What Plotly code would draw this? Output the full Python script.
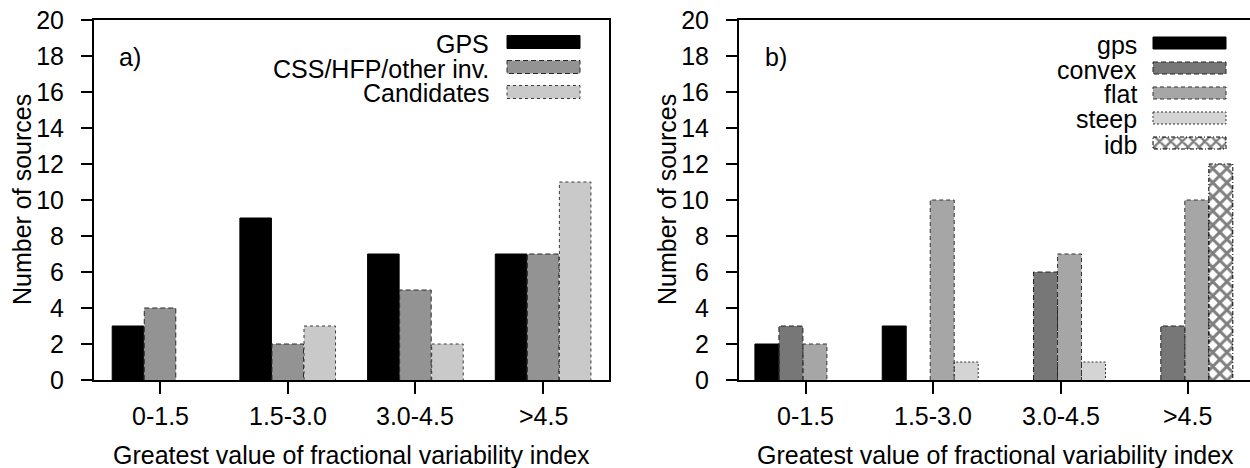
import plotly.graph_objects as go

# ---------------- data ----------------
categories = ["0-1.5", "1.5-3.0", "3.0-4.5", ">4.5"]

a_names = ["GPS", "CSS/HFP/other inv.", "Candidates"]
a_gps = [3, 9, 7, 7]
a_css = [4, 2, 5, 7]
a_cand = [0, 3, 2, 11]

b_names = ["gps", "convex", "flat", "steep", "idb"]
b_gps = [2, 3, 0, 0]
b_convex = [3, 0, 6, 3]
b_flat = [2, 10, 7, 10]
b_steep = [0, 1, 1, 0]
b_idb = [0, 0, 0, 12]

y_ticks = list(range(0, 21, 2))

# ---------------- styles ----------------
W, H = 1250, 468
FONT = "Liberation Sans, Arial, Helvetica, sans-serif"
FS = 25

a_styles = [
    dict(fill="#000000", line="#000000", dash="solid", pattern=None),
    dict(fill="#939393", line="#2a2a2a", dash="5px,3px", pattern=None),
    dict(fill="#c9c9c9", line="#3a3a3a", dash="3px,3px", pattern=None),
]
b_styles = [
    dict(fill="#000000", line="#000000", dash="solid", pattern=None),
    dict(fill="#777777", line="#222222", dash="5px,3px", pattern=None),
    dict(fill="#a6a6a6", line="#333333", dash="4px,3px", pattern=None),
    dict(fill="#d4d4d4", line="#333333", dash="2px,2px", pattern=None),
    dict(fill="#ffffff", line="#000000", dash="4px,2px,1px,2px", pattern="x"),
]

# bar geometry (in category units)
a_width = 0.247
a_centers = [-0.251, 0.0, 0.251]
b_width = 0.1885
b_slot = [0, 1, 2, 3, 3]          # idb shares the last slot
b_centers = [-0.024 + (k - 1.5) * 0.1885 for k in range(4)]

fig = go.Figure()


def add_series(values, center, width, style, xa, ya):
    xs, ys = [], []
    lx, ly = [], []
    for i, v in enumerate(values):
        if not v:
            continue
        xc = i + center
        xs.append(xc)
        ys.append(v)
        x0, x1 = xc - width / 2, xc + width / 2
        lx += [x0, x0, x1, x1, None]
        ly += [0, v, v, 0, None]
    marker = dict(color=style["fill"], line=dict(width=0))
    if style["pattern"]:
        marker["pattern"] = dict(shape=style["pattern"], fgcolor="#000000",
                                 bgcolor="#ffffff", size=10, solidity=0.5)
    fig.add_trace(go.Bar(x=xs, y=ys, width=width, marker=marker,
                         xaxis=xa, yaxis=ya, showlegend=False,
                         hoverinfo="skip"))
    fig.add_trace(go.Scatter(x=lx, y=ly, mode="lines",
                             line=dict(color=style["line"], width=1,
                                       dash=style["dash"]),
                             xaxis=xa, yaxis=ya, showlegend=False,
                             hoverinfo="skip"))


for vals, c, st in zip([a_gps, a_css, a_cand], a_centers, a_styles):
    add_series(vals, c, a_width, st, "x", "y")

for vals, slot, st in zip([b_gps, b_convex, b_flat, b_steep, b_idb], b_slot, b_styles):
    add_series(vals, b_centers[slot], b_width, st, "x2", "y2")

# ---------------- legends (drawn in pixel space on a hidden full-page axis) ----------------
def legend_box(x0, x1, yc, h, style, text, tx):
    y0, y1 = yc - h / 2, yc + h / 2
    kw = dict(x=[x0, x1, x1, x0, x0], y=[y0, y0, y1, y1, y0], mode="lines",
              fill="toself", fillcolor=style["fill"],
              line=dict(color=style["line"], width=1, dash=style["dash"]),
              xaxis="x3", yaxis="y3", showlegend=False, hoverinfo="skip")
    if style["pattern"]:
        kw["fillpattern"] = dict(shape=style["pattern"], fgcolor="#000000",
                                 bgcolor="#ffffff", size=8, solidity=0.5)
    fig.add_trace(go.Scatter(**kw))
    fig.add_annotation(x=tx / W, y=1 - (yc + 1.5) / H, xref="paper", yref="paper",
                       text=text, showarrow=False, xanchor="right", yanchor="middle",
                       font=dict(family=FONT, size=FS, color="black"))


for k, (name, st) in enumerate(zip(a_names, a_styles)):
    legend_box(507, 580, 42 + 25 * k, 13, st, name, 491)
for k, (name, st) in enumerate(zip(b_names, b_styles)):
    legend_box(1153, 1226, 43 + 25 * k, 12, st, name, 1139)

# ---------------- axes ----------------
ydom = [1 - 380 / H, 1 - 20 / H]
common_x = dict(tickmode="array", tickvals=list(range(len(categories))),
                ticktext=categories, ticks="outside", ticklen=12, tickwidth=2,
                tickcolor="black", showline=True, linecolor="black", linewidth=2,
                showgrid=False, zeroline=False, showticklabels=False)
common_y = dict(range=[0, 20], tickmode="array", tickvals=y_ticks,
                ticks="outside", ticklen=11, tickwidth=2, tickcolor="black",
                showline=True, linecolor="black", linewidth=2, showgrid=False,
                zeroline=False, ticklabelstandoff=12,
                tickfont=dict(family=FONT, size=FS, color="black"))

fig.update_layout(
    width=W, height=H,
    margin=dict(l=0, r=0, t=0, b=0, autoexpand=False),
    paper_bgcolor="white", plot_bgcolor="rgba(0,0,0,0)",
    barmode="overlay",
    xaxis=dict(common_x, domain=[94 / W, 609 / W], range=[-0.517, 3.516],
               mirror=True, anchor="y"),
    yaxis=dict(common_y, domain=ydom, mirror=True, anchor="x"),
    xaxis2=dict(common_x, domain=[739 / W, 1.0], range=[-0.526, 3.488],
                mirror=True, anchor="y2"),
    yaxis2=dict(common_y, domain=ydom, mirror=False, anchor="x2"),
    xaxis3=dict(domain=[0, 1], range=[0, W], visible=False, fixedrange=True,
                anchor="y3"),
    yaxis3=dict(domain=[0, 1], range=[H, 0], visible=False, fixedrange=True,
                anchor="x3"),
    showlegend=False,
)

# category tick labels, positioned on each panel's x axis
for xref in ("x", "x2"):
    for i, cat in enumerate(categories):
        fig.add_annotation(x=i, xref=xref, y=1 - 416 / H, yref="paper",
                           text=cat, showarrow=False, xanchor="center",
                           yanchor="middle",
                           font=dict(family=FONT, size=FS, color="black"))

# titles and panel labels
for cx in (351, 995):
    fig.add_annotation(x=cx / W, y=1 - 455 / H, xref="paper", yref="paper",
                       text="Greatest value of fractional variability index",
                       showarrow=False, xanchor="center", yanchor="middle",
                       font=dict(family=FONT, size=FS, color="black"))
for cx in (22, 667):
    fig.add_annotation(x=cx / W, y=1 - 200 / H, xref="paper", yref="paper",
                       text="Number of sources", textangle=-90,
                       showarrow=False, xanchor="center", yanchor="middle",
                       font=dict(family=FONT, size=FS, color="black"))
for cx, lab in ((130, "a)"), (776, "b)")):
    fig.add_annotation(x=cx / W, y=1 - 57 / H, xref="paper", yref="paper",
                       text=lab, showarrow=False, xanchor="center", yanchor="middle",
                       font=dict(family=FONT, size=FS, color="black"))

fig.write_html("out.html")
